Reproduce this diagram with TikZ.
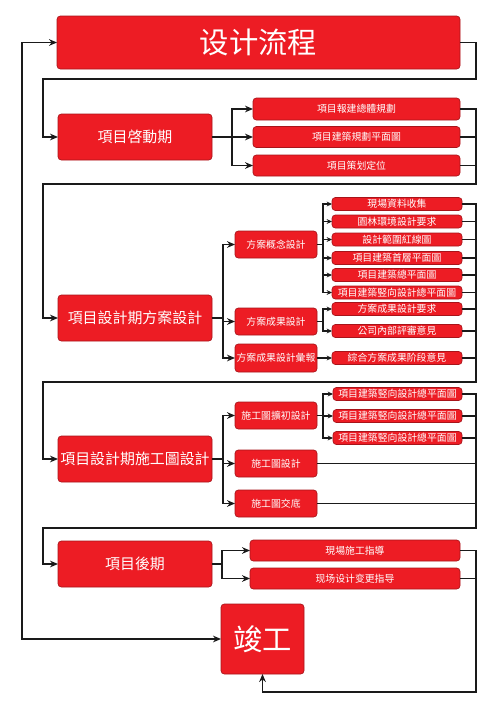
\documentclass[tikz,border=0pt]{standalone}
\usepackage{fontspec}
\newfontfamily\cjk{Noto Sans CJK TC}
\usetikzlibrary{arrows.meta}
\definecolor{boxred}{HTML}{ED1C24}
\definecolor{boxedge}{HTML}{A8141A}
\definecolor{linecol}{HTML}{1A1A1A}
\tikzset{
  box/.style={draw=boxedge,fill=boxred,line width=0.5pt,rounded corners=2.5pt,inner sep=0pt,outer sep=0pt,text=white,font=\cjk},
  sz/.style 2 args={minimum width=#1*0.75pt,minimum height=#2*0.75pt},
  bigtxt/.style={font=\cjk\fontsize{22}{24}\selectfont},
  midtxt/.style={font=\cjk\fontsize{11.2}{13}\selectfont},
  smalltxt/.style={font=\cjk\fontsize{7.4}{9}\selectfont},
  conn/.style={draw=linecol,line width=0.9pt},
  arr/.style={conn,-{Stealth[length=6pt,width=5pt]}},
  sarr/.style={conn,-{Stealth[length=4pt,width=3.6pt]}},
}
\begin{document}
\begin{tikzpicture}[x=0.75pt,y=-0.75pt]
\useasboundingbox (0,0) rectangle (500,707);
% boxes
\node[box,bigtxt,sz={403}{53}] (title) at (258.5,42.5) {设计流程};
\node[box,midtxt,sz={154}{46}] (p1) at (135,137) {項目啓動期};
\node[box,smalltxt,sz={207}{22}] (s11) at (356.5,109) {項目報建總體規劃};
\node[box,smalltxt,sz={207}{21}] (s12) at (356.5,137) {項目建築規劃平面圖};
\node[box,smalltxt,sz={207}{21}] (s13) at (356.5,165.5) {項目策划定位};

\node[box,midtxt,sz={154}{46}] (p2) at (135,318) {項目設計期方案設計};
\node[box,smalltxt,sz={82}{27}] (m21) at (276,244.5) {方案概念設計};
\node[box,smalltxt,sz={82}{27}] (m22) at (276,321.5) {方案成果設計};
\node[box,smalltxt,sz={82}{28}] (m23) at (276,358) {方案成果設計彙報};
\node[box,smalltxt,sz={130}{13}] (s21) at (397,204) {現場資料收集};
\node[box,smalltxt,sz={130}{13}] (s22) at (397,221.5) {園林環境設計要求};
\node[box,smalltxt,sz={130}{13}] (s23) at (397,239.5) {設計範圍紅線圖};
\node[box,smalltxt,sz={130}{13}] (s24) at (397,258) {項目建築首層平面圖};
\node[box,smalltxt,sz={130}{13}] (s25) at (397,275) {項目建築總平面圖};
\node[box,smalltxt,sz={130}{13}] (s26) at (397,292.5) {項目建築竪向設計總平面圖};
\node[box,smalltxt,sz={130}{13}] (s27) at (397,309) {方案成果設計要求};
\node[box,smalltxt,sz={130}{13}] (s28) at (397,331) {公司內部評審意見};
\node[box,smalltxt,sz={130}{13}] (s29) at (397,358) {綜合方案成果阶段意見};

\node[box,midtxt,sz={154}{46}] (p3) at (135,459) {項目設計期施工圖設計};
\node[box,smalltxt,sz={82}{27}] (m31) at (276,415.5) {施工圖擴初設計};
\node[box,smalltxt,sz={82}{27}] (m32) at (276,463.5) {施工圖設計};
\node[box,smalltxt,sz={82}{27}] (m33) at (276,503.5) {施工圖交底};
\node[box,smalltxt,sz={129}{13}] (s31) at (397.5,394) {項目建築竪向設計總平面圖};
\node[box,smalltxt,sz={129}{13}] (s32) at (397.5,416) {項目建築竪向設計總平面圖};
\node[box,smalltxt,sz={129}{13}] (s33) at (397.5,438) {項目建築竪向設計總平面圖};

\node[box,midtxt,sz={154}{46}] (p4) at (135,564) {項目後期};
\node[box,smalltxt,sz={210}{21}] (s41) at (355,550.5) {現場施工指導};
\node[box,smalltxt,sz={210}{21}] (s42) at (355,578.5) {现场设计变更指导};

\node[box,bigtxt,sz={83}{70}] (done) at (262.5,639) {竣工};

% junctions / bends
\coordinate (lx) at (22,400);
\coordinate (r1) at (476,79);  \coordinate (l1) at (43,79);
\coordinate (r2) at (476,184); \coordinate (l2) at (43,184);
\coordinate (r3) at (476,382); \coordinate (l3) at (43,382);
\coordinate (r4) at (476,528); \coordinate (l4) at (43,528);
\coordinate (r5) at (476,692);
\coordinate (j1) at (232,137);
\coordinate (j2) at (223,318);
\coordinate (j21) at (323,244.5);
\coordinate (j22) at (323,321.5);
\coordinate (j3) at (223,459);
\coordinate (j31) at (323,415.5);
\coordinate (j4) at (222,564);

% outer loop
\draw[conn,{Stealth[length=6pt,width=5pt]}-{Stealth[length=6pt,width=5pt]}] (title.west) -| (lx) |- (done.west);
\draw[arr] (title.east) -| (r1) -- (l1) |- (p1.west);

% section 1
\draw[conn] (p1.east) -- (j1);
\foreach \s in {s11,s12,s13} \draw[arr] (j1) |- (\s.west);
\draw[arr] (s11.east) -| (r2) -- (l2) |- (p2.west);
\foreach \s in {s12,s13} \draw[conn] (\s.east) -- (\s.east -| r2);

% section 2
\draw[conn] (p2.east) -- (j2);
\foreach \s in {m21,m22,m23} \draw[arr] (j2) |- (\s.west);
\draw[conn] (m21.east) -- (j21);
\foreach \s in {s21,s22,s23,s24,s25,s26} \draw[sarr] (j21) |- (\s.west);
\draw[conn] (m22.east) -- (j22);
\foreach \s in {s27,s28} \draw[sarr] (j22) |- (\s.west);
\draw[sarr] (m23.east) -- (s29.west);
\draw[arr] (s21.east) -| (r3) -- (l3) |- (p3.west);
\foreach \s in {s22,s23,s24,s25,s26,s27,s28,s29} \draw[conn] (\s.east) -- (\s.east -| r3);

% section 3
\draw[conn] (p3.east) -- (j3);
\foreach \s in {m31,m32,m33} \draw[arr] (j3) |- (\s.west);
\draw[conn] (m31.east) -- (j31);
\foreach \s in {s31,s32,s33} \draw[sarr] (j31) |- (\s.west);
\draw[arr] (s31.east) -| (r4) -- (l4) |- (p4.west);
\foreach \s in {s32,s33,m32,m33} \draw[conn] (\s.east) -- (\s.east -| r4);

% section 4
\draw[conn] (p4.east) -- (j4);
\foreach \s in {s41,s42} \draw[arr] (j4) |- (\s.west);
\draw[arr] (s41.east) -| (r5) -| (done.south);
\draw[conn] (s42.east) -- (s42.east -| r5);
\end{tikzpicture}
\end{document}
